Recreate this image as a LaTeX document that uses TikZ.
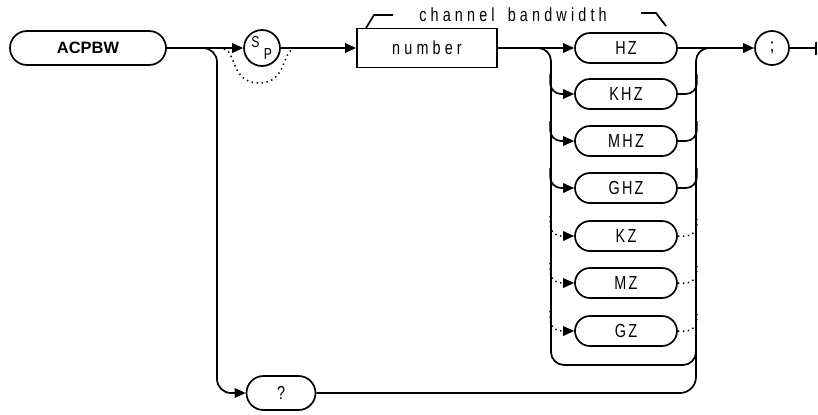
\documentclass[tikz,border=0pt]{standalone}
\usepackage{fontspec}
\setmainfont{Liberation Sans}
\newfontfamily\hpfont[LetterSpace=22,FakeStretch=0.76]{Liberation Sans}
\newfontfamily\hpcaps[LetterSpace=12,FakeStretch=0.76]{Liberation Sans}
\usetikzlibrary{arrows.meta}
\begin{document}
\begin{tikzpicture}[x=1bp,y=-1bp,line width=1.7bp,
  arr/.style={-{Triangle[length=11bp,width=9.5bp]}},
  dots/.style={line width=1.5bp,dash pattern=on 1.4bp off 3.6bp},
  term/.style={draw,rounded corners=15bp,minimum width=102bp,minimum height=30bp,inner sep=0pt,font=\hpcaps\fontsize{19}{19}\selectfont},
  hptext/.style={font=\hpfont\fontsize{19}{19}\selectfont,inner sep=0pt}]
\useasboundingbox (0,0) rectangle (818,414);

% nodes
\node[draw,rounded corners=17bp,minimum width=156bp,minimum height=34bp,inner sep=0pt,
      font=\bfseries\fontsize{16.5}{16.5}\selectfont] (acp) at (88,48) {ACPBW};
\node[draw,circle,minimum size=36bp,inner sep=0pt] (sp) at (262,48) {};
\node[font=\hpcaps\fontsize{16}{16}\selectfont,inner sep=0pt] (sS) at (255.5,42) {S};
\node[font=\hpcaps\fontsize{16}{16}\selectfont,inner sep=0pt] (sP) at (268,54) {P};
\node[draw,minimum width=140bp,minimum height=39bp,inner sep=0pt,hptext] (num) at (427,48) {number};
\node[hptext] (lbl) at (513,15) {channel\hspace{5bp} bandwidth};
\foreach \n/\t/\y in {1/HZ/48,2/KHZ/94,3/MHZ/141,4/GHZ/188,5/KZ/236,6/MZ/283,7/GZ/331}
  \node[term] (u\n) at (626,\y) {\t};
\node[draw,circle,minimum size=34bp,inner sep=0pt,font=\fontsize{18}{18}\selectfont] (semi) at (772,48) {;};
\node[term,minimum width=69bp,minimum height=34bp,rounded corners=17bp] (q) at (281,393) {?};
\coordinate (end) at (817,48);

% label brackets
\draw (366,28) -- (374,15) -- (393,15);
\draw (641,13) -- (656,13) -- (666,26);

% main line
\draw[arr] (acp.east) -- (sp.west);
\draw[arr] (sp.east) -- (num.west);
\draw[dots] (224,49) .. controls (236,51) and (231,83) .. (259,83) .. controls (287,83) and (282,51) .. (294,49);
\draw[arr,rounded corners=14bp] (200,48) -- (217,48) -- (217,393) -- (q.west);
\draw[arr] (num.east) -- (u1.west);
\draw[rounded corners=13bp] (530,48) -- (551,48) -- (551,365) -- (696,365) -- (696,48) -- (712,48);
\draw[rounded corners=16bp] (q.east) -- (696,393) -- (696,340);
\draw[arr] (u1.east) -- (semi.west);
\draw[-{Bar[width=13bp]}] (semi.east) -- (end);

% unit branches
\foreach \n in {2,3,4} {
  \draw[arr,rounded corners=11bp] ([xshift=-24bp,yshift=20bp]u\n.west) |- (u\n.west);
  \draw[rounded corners=11bp] (u\n.east) -| ([xshift=19bp,yshift=20bp]u\n.east);
}
\foreach \n in {5,6,7} {
  \draw[dots,rounded corners=11bp] ([xshift=-24bp,yshift=20bp]u\n.west) |- ([xshift=-10bp]u\n.west);
  \draw[arr] ([xshift=-11bp]u\n.west) -- (u\n.west);
  \draw[dots,rounded corners=11bp] (u\n.east) -| ([xshift=19bp,yshift=20bp]u\n.east);
}
\end{tikzpicture}
\end{document}
